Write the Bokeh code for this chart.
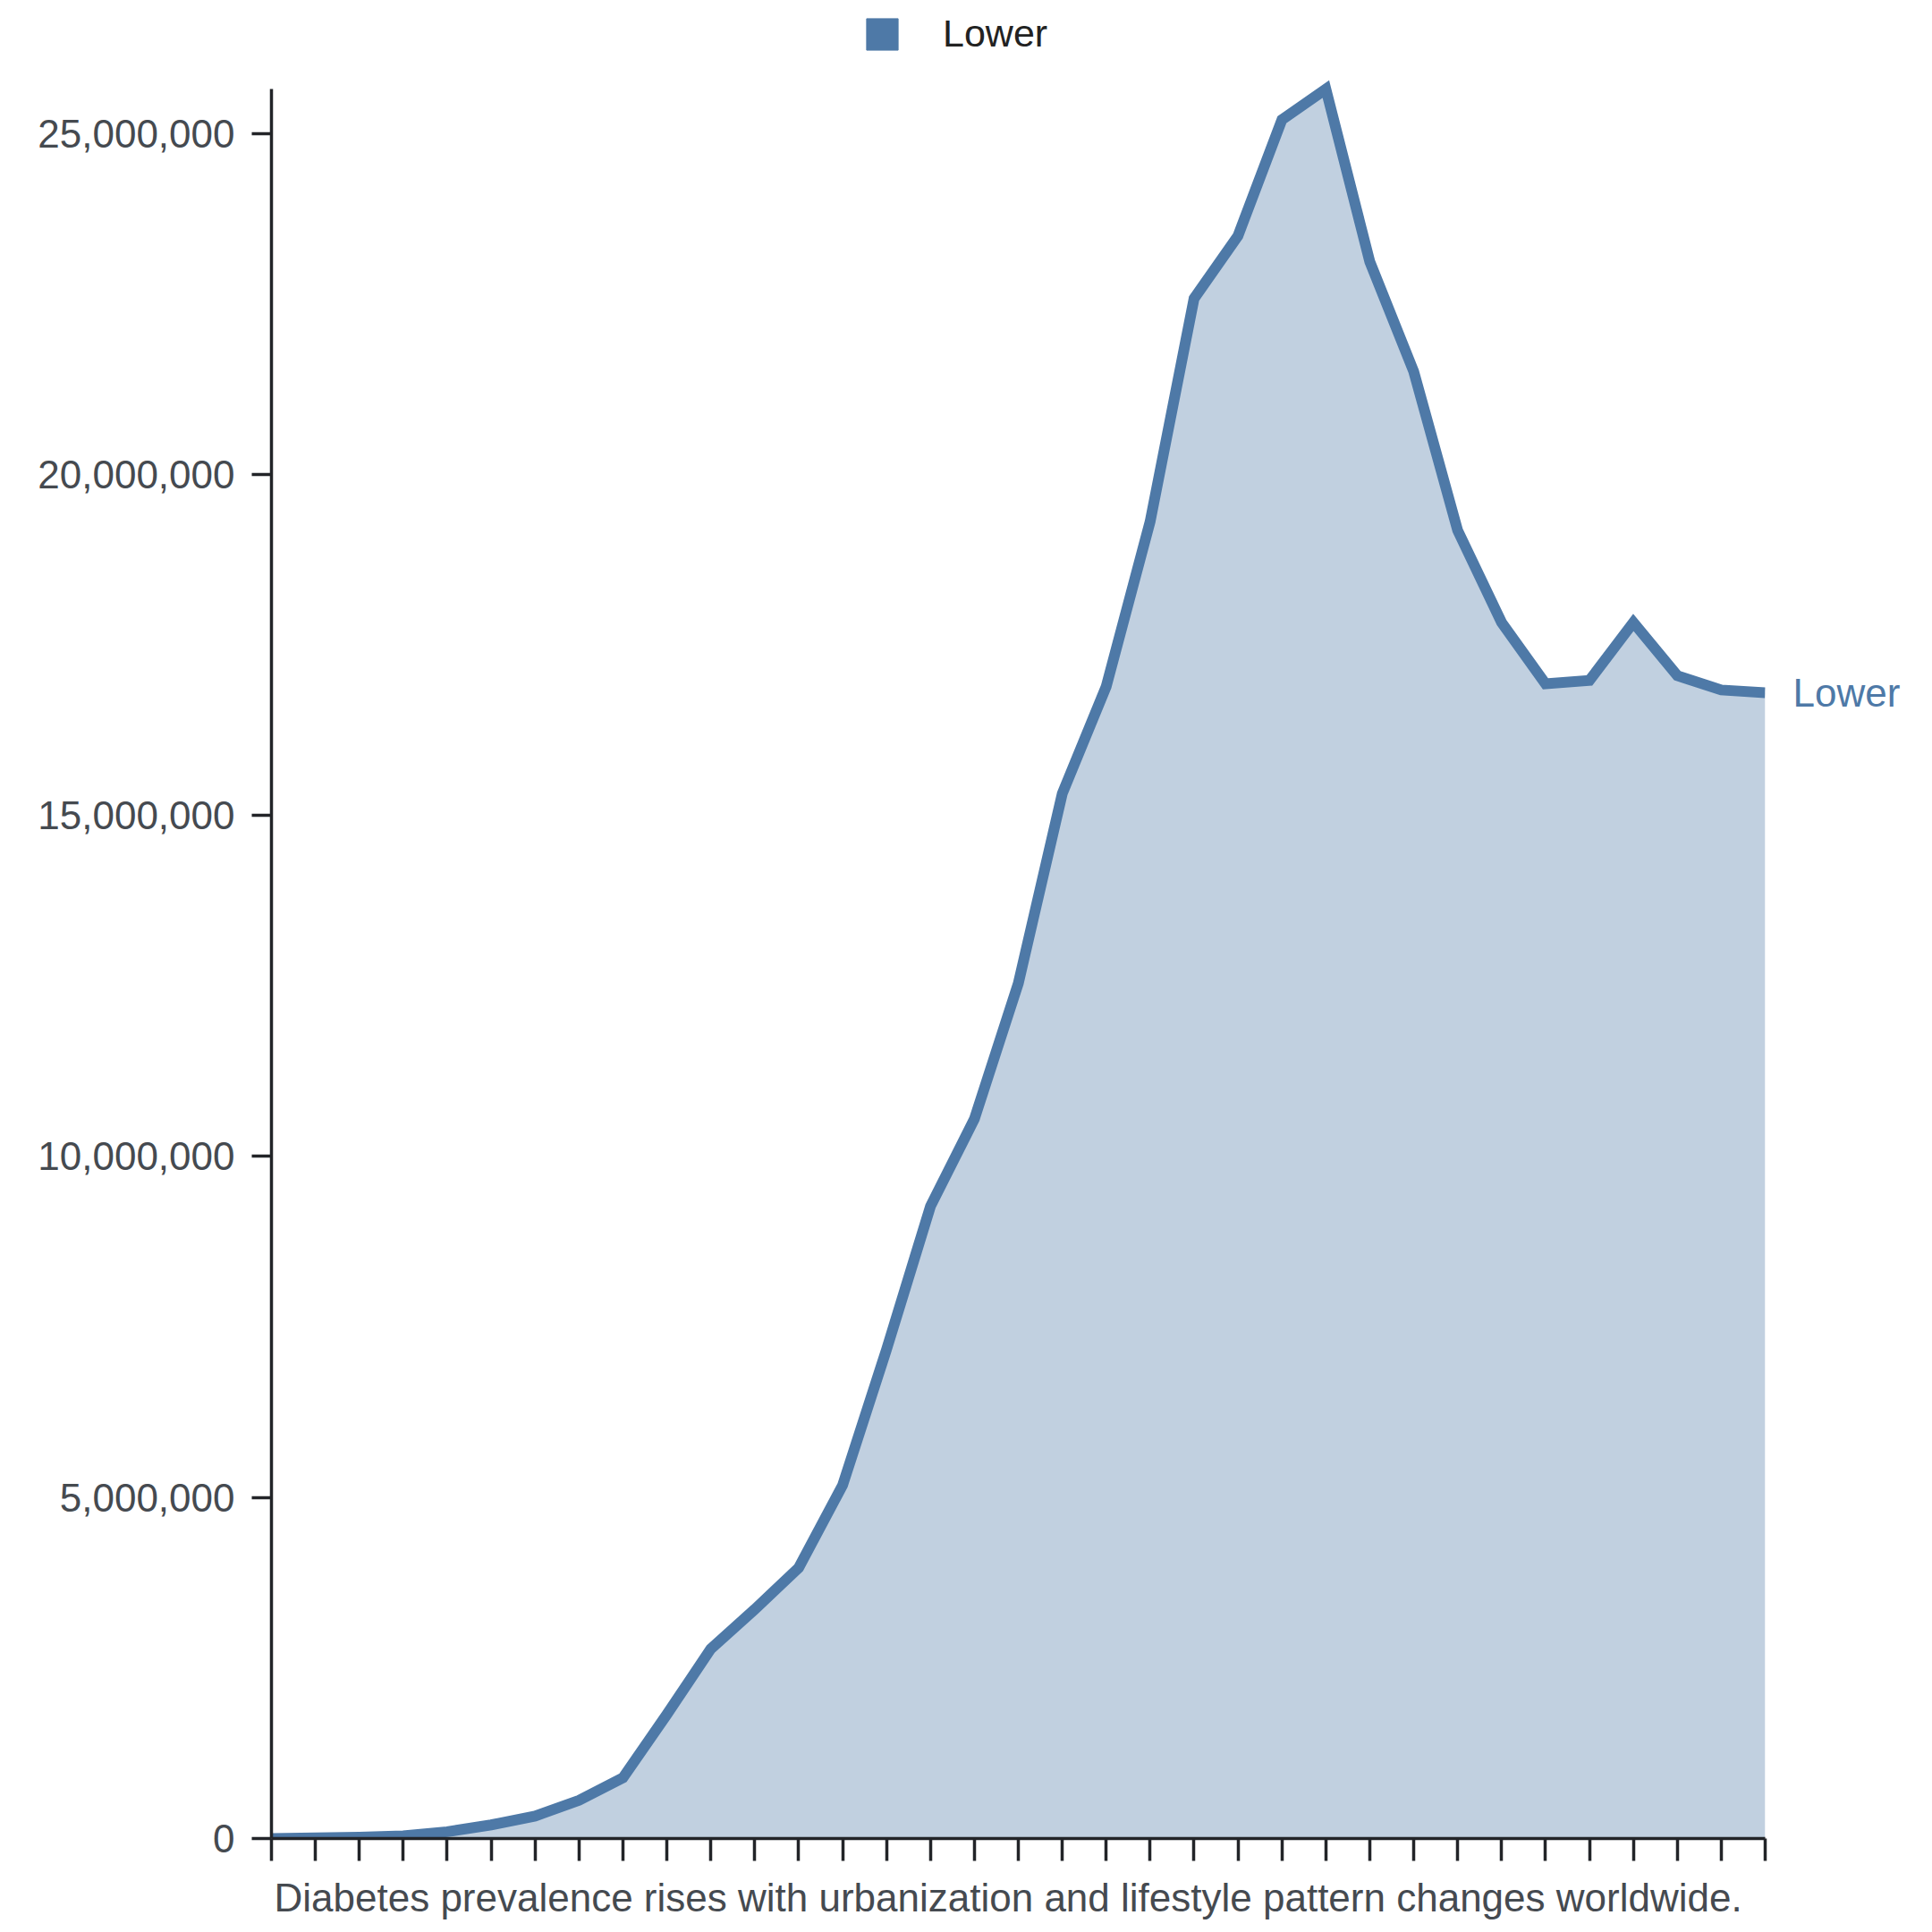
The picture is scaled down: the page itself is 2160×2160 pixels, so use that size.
from bokeh.plotting import figure
from bokeh.models import (Range1d, FixedTicker, Legend, LegendItem, LinearAxis, Title,
                          NumeralTickFormatter, ColumnDataSource)
from bokeh.embed import file_html
from bokeh.resources import INLINE

# ---- data ----
series_name = "Lower"
x_index = list(range(35))
values = [0.00e6, 0.01e6, 0.02e6, 0.04e6, 0.10e6, 0.20e6, 0.33e6, 0.56e6, 0.89e6,
          1.82e6, 2.78e6, 3.36e6, 3.97e6, 5.18e6, 7.17e6, 9.27e6, 10.55e6, 12.54e6,
          15.32e6, 16.89e6, 19.31e6, 22.58e6, 23.50e6, 25.20e6, 25.65e6, 23.12e6,
          21.51e6, 19.18e6, 17.83e6, 16.93e6, 16.98e6, 17.83e6, 17.05e6, 16.84e6,
          16.80e6]
x_tick_labels = ["" for _ in x_index]
y_ticks = [0, 5e6, 10e6, 15e6, 20e6, 25e6]
caption = "Diabetes prevalence rises with urbanization and lifestyle pattern changes worldwide."

BLUE = "#4e79a7"
FONT = "Liberation Sans"
AXIS = "#222428"
TXT = "#454a50"

src = ColumnDataSource(dict(x=x_index, y=values, y0=[0] * len(values)))

p = figure(width=2152, height=2160, output_backend="svg", toolbar_location=None,
           x_range=Range1d(0, len(x_index) - 1), y_range=Range1d(0, 26.95e6),
           min_border_left=303, min_border_right=179, min_border_top=0,
           min_border_bottom=105)
p.outline_line_color = None
p.grid.visible = False
p.background_fill_color = "white"

p.varea(x="x", y1="y0", y2="y", source=src, fill_color=BLUE, fill_alpha=0.35)
p.line(x="x", y="y", source=src, line_color=BLUE, line_width=12, line_join="miter")

# legend swatch: a quad kept outside the visible ranges, used only by the legend
swatch = p.quad(left=[-10], right=[-9], top=[-1], bottom=[-2],
                fill_color=BLUE, line_color=BLUE)
legend = Legend(items=[LegendItem(label=series_name, renderers=[swatch])],
                location=(661, 1993), orientation="horizontal",
                glyph_width=44, glyph_height=44, label_height=44,
                label_standoff=46, padding=0, margin=0, spacing=0,
                border_line_alpha=0, background_fill_alpha=0,
                label_text_font=FONT, label_text_font_size="43px",
                label_text_color="#222222")
p.add_layout(legend, "center")

# axes
p.yaxis.ticker = FixedTicker(ticks=y_ticks)
p.yaxis.formatter = NumeralTickFormatter(format="0,0")
p.yaxis.bounds = (0, max(values))
p.yaxis.major_label_text_font = FONT
p.yaxis.major_label_text_font_size = "44px"
p.yaxis.major_label_text_color = TXT
p.yaxis.major_label_standoff = 19
p.yaxis.major_tick_out = 22
p.yaxis.major_tick_in = 0
p.yaxis.minor_tick_line_color = None

p.xaxis.ticker = FixedTicker(ticks=x_index)
p.xaxis.major_label_overrides = {i: t for i, t in zip(x_index, x_tick_labels)}
p.xaxis.major_label_text_font_size = "0px"
p.xaxis.major_label_standoff = 0
p.xaxis.major_tick_out = 25
p.xaxis.major_tick_in = 0
p.xaxis.minor_tick_line_color = None

for ax in (p.xaxis, p.yaxis):
    ax.axis_line_color = AXIS
    ax.axis_line_width = 3.5
    ax.major_tick_line_color = AXIS
    ax.major_tick_line_width = 3.5

# end-of-series label as a right-hand axis label
end_axis = LinearAxis(ticker=FixedTicker(ticks=[values[-1]]),
                      major_label_overrides={values[-1]: series_name},
                      axis_line_color=None, major_tick_line_color=None,
                      minor_tick_line_color=None, major_label_standoff=25,
                      major_label_text_font=FONT, major_label_text_font_size="44px",
                      major_label_text_color=BLUE)
p.add_layout(end_axis, "right")

# caption below the axis
p.add_layout(Title(text=caption, align="left", offset=3, standoff=28,
                   text_font=FONT, text_font_size="44px", text_font_style="normal",
                   text_color=TXT), "below")

open("out.html", "w").write(file_html(p, INLINE))
